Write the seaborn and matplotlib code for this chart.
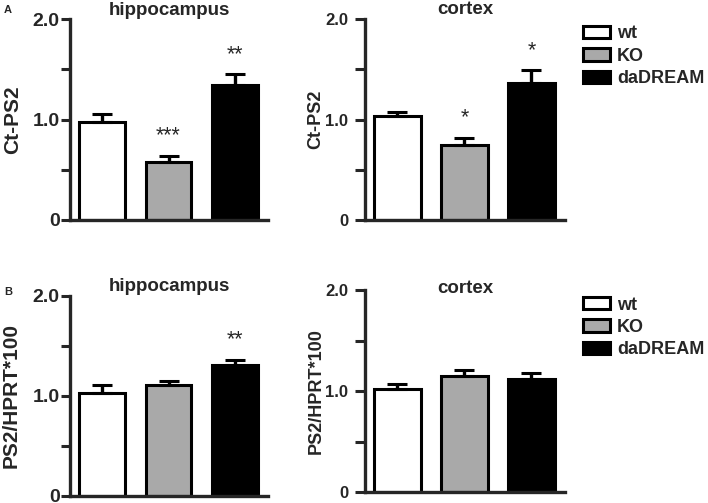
import numpy as np
import pandas as pd
import seaborn as sns
import matplotlib.pyplot as plt
from matplotlib.patches import Patch
from matplotlib.ticker import FixedLocator

# ---------- datos ----------
genotypes = ["wt", "KO", "daDREAM"]
colors = {"wt": "#ffffff", "KO": "#a9a9a9", "daDREAM": "#000000"}

a_hip_mean = [0.98, 0.58, 1.34]
a_hip_sem = [0.07, 0.06, 0.11]
a_hip_stars = ["", "***", "**"]

a_ctx_mean = [1.035, 0.745, 1.36]
a_ctx_sem = [0.035, 0.075, 0.13]
a_ctx_stars = ["", "*", "*"]

b_hip_mean = [1.03, 1.11, 1.31]
b_hip_sem = [0.08, 0.04, 0.055]
b_hip_stars = ["", "", "**"]

b_ctx_mean = [1.02, 1.15, 1.12]
b_ctx_sem = [0.05, 0.055, 0.06]
b_ctx_stars = ["", "", ""]

sns.set_style("ticks")
plt.rcParams["font.family"] = ["Liberation Sans", "DejaVu Sans"]
plt.rcParams["font.weight"] = "bold"

W, H = 708, 503
fig = plt.figure(figsize=(W / 100, H / 100), dpi=100)


def px_axes(x0, y0, x1, y1):
    return fig.add_axes([x0 / W, 1 - y1 / H, (x1 - x0) / W, (y1 - y0) / H])


def panel(ax, mean, sem, stars, title, ylabel, big, title_y, label_x):
    df = pd.DataFrame({"genotype": genotypes, "value": mean})
    sns.barplot(data=df, x="genotype", y="value", hue="genotype", palette=colors,
                order=genotypes, hue_order=genotypes, width=0.69, dodge=False,
                edgecolor="black", linewidth=2.2, errorbar=None, legend=False, ax=ax)
    ax.errorbar(range(3), mean, yerr=[np.zeros(3), sem], fmt="none", ecolor="black",
                elinewidth=2.4, capsize=7, capthick=2.2, zorder=1)
    for i, s in enumerate(stars):
        if s:
            ax.text(i, mean[i] + sem[i] + 0.14, s, ha="center", va="baseline",
                    fontsize=15.5, fontweight="normal")
    ax.set_xlim(-0.485, 2.5)
    ax.set_ylim(0, 2.0)
    ax.yaxis.set_major_locator(FixedLocator([0, 1.0, 2.0]))
    ax.set_yticklabels(["0", "1.0", "2.0"])
    ax.yaxis.set_minor_locator(FixedLocator([0.5, 1.5]))
    ax.set_xticks([])
    ax.set_xlabel("")
    for sp in ["top", "right"]:
        ax.spines[sp].set_visible(False)
    for sp in ["left", "bottom"]:
        ax.spines[sp].set_linewidth(2.4)
    tsize = 14 if big else 12
    ax.tick_params(axis="y", which="both", length=6.5 if big else 7, width=2.2,
                   pad=1 if big else 5, labelsize=tsize)
    for lab in ax.get_yticklabels():
        lab.set_fontweight("bold")
    ax.set_ylabel(ylabel, fontsize=15 if big else 13, fontweight="bold")
    ax.yaxis.set_label_coords(label_x, 0.5)
    ax.text(0.5, title_y, title, transform=ax.transAxes, ha="center", va="baseline",
            fontsize=13.5, fontweight="bold")


ax1 = px_axes(70, 19, 268, 220)
ax2 = px_axes(365, 19, 565, 220)
ax3 = px_axes(70, 296, 268, 496)
ax4 = px_axes(365, 290, 565, 492)

panel(ax1, a_hip_mean, a_hip_sem, a_hip_stars, "hippocampus", "Ct-PS2", True, 1.02, -0.24)
panel(ax2, a_ctx_mean, a_ctx_sem, a_ctx_stars, "cortex", "Ct-PS2", False, 1.025, -0.205)
panel(ax3, b_hip_mean, b_hip_sem, b_hip_stars, "hippocampus", "PS2/HPRT*100", True, 1.025, -0.25)
panel(ax4, b_ctx_mean, b_ctx_sem, b_ctx_stars, "cortex", "PS2/HPRT*100", False, 0.985, -0.2)

fig.text(4 / W, 1 - 13 / H, "A", fontsize=8, fontweight="bold", va="baseline")
fig.text(4 / W, 1 - 295 / H, "B", fontsize=8, fontweight="bold", va="baseline")

handles = [Patch(facecolor=colors[g], edgecolor="black", linewidth=2.2, label=g)
           for g in genotypes]
for top in (25.5, 296.5):
    fig.legend(handles=handles, loc="upper left", bbox_to_anchor=(583 / W, 1 - top / H),
               frameon=False, borderpad=0, borderaxespad=0, handlelength=1.5,
               handleheight=0.67, handletextpad=0.39, labelspacing=0.3,
               prop={"size": 13, "weight": "bold"})

fig.savefig("out.png", dpi=100)
